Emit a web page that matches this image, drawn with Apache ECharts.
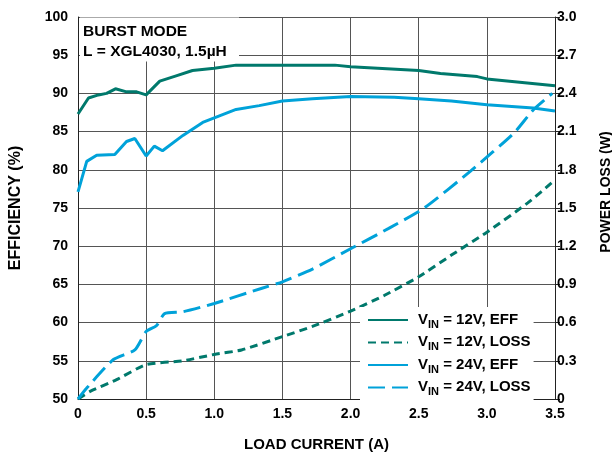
<!DOCTYPE html>
<html>
<head>
<meta charset="utf-8">
<script src="https://cdn.jsdelivr.net/npm/echarts@6/dist/echarts.min.js"></script>
<style>html,body{margin:0;padding:0;background:#fff;}#c{width:612px;height:457px;}</style>
</head>
<body>
<div id="c"></div>
<script>
// ---- data ----
const xTicks = [0, 0.5, 1.0, 1.5, 2.0, 2.5, 3.0, 3.5];
const effTicks = [50, 55, 60, 65, 70, 75, 80, 85, 90, 95, 100];
const lossTicks = [0, 0.3, 0.6, 0.9, 1.2, 1.5, 1.8, 2.1, 2.4, 2.7, 3.0];

const eff12X = [0, 0.077, 0.15, 0.21, 0.275, 0.356, 0.43, 0.5, 0.6, 0.72, 0.84, 1.0, 1.16, 1.5, 1.885, 2.0, 2.2, 2.5, 2.66, 2.93, 3.0, 3.5];
const eff12Y = [87.3, 89.4, 89.8, 90.0, 90.6, 90.2, 90.2, 89.8, 91.6, 92.3, 93.0, 93.3, 93.7, 93.7, 93.7, 93.5, 93.3, 93.0, 92.6, 92.2, 91.9, 91.0];

const loss12X = [0, 0.089, 0.28, 0.5, 0.77, 1.0, 1.2, 1.5, 1.72, 2.0, 2.25, 2.5, 2.74, 3.0, 3.3, 3.5];
const loss12Y = [0, 0.06, 0.15, 0.27, 0.30, 0.35, 0.385, 0.49, 0.57, 0.69, 0.815, 0.96, 1.13, 1.31, 1.54, 1.72];

const eff24X = [0, 0.064, 0.137, 0.27, 0.356, 0.417, 0.5, 0.56, 0.62, 0.77, 0.915, 1.0, 1.16, 1.33, 1.5, 1.72, 2.0, 2.32, 2.5, 2.74, 3.0, 3.34, 3.5];
const eff24Y = [77.1, 81.1, 81.9, 82.0, 83.7, 84.1, 81.8, 83.1, 82.5, 84.5, 86.2, 86.8, 87.9, 88.4, 89.0, 89.3, 89.6, 89.5, 89.3, 89.0, 88.5, 88.1, 87.7];

const loss24X = [0, 0.064, 0.26, 0.417, 0.5, 0.575, 0.635, 0.77, 1.0, 1.35, 1.5, 1.72, 2.0, 2.28, 2.54, 2.88, 3.2, 3.34, 3.48];
const loss24Y = [0, 0.086, 0.31, 0.385, 0.53, 0.575, 0.67, 0.685, 0.75, 0.87, 0.92, 1.02, 1.18, 1.34, 1.5, 1.79, 2.09, 2.27, 2.40];

const seriesNames = ['VIN = 12V, EFF', 'VIN = 12V, LOSS', 'VIN = 24V, EFF', 'VIN = 24V, LOSS'];
const annotation = ['BURST MODE', 'L = XGL4030, 1.5µH'];

// ---- build ----
const GREEN = '#00796c';
const CYAN = '#00a2d9';
const FONT = 'Liberation Sans, Arial, sans-serif';
const zip = (xs, ys) => xs.map((x, i) => [x, ys[i]]);

const chart = echarts.init(document.getElementById('c'), null, {renderer: 'canvas'});
const axisLabel = {color: '#000', fontFamily: FONT, fontWeight: 'bold', fontSize: 14};
const option = {
  animation: false,
  backgroundColor: '#fff',
  textStyle: {fontFamily: FONT},
  grid: {left: 74, right: 57, top: 17, bottom: 56, containLabel: false},
  xAxis: {
    type: 'value', min: xTicks[0], max: xTicks[xTicks.length - 1], interval: 0.5,
    name: 'LOAD CURRENT (A)', nameLocation: 'middle', nameGap: 38,
    nameTextStyle: {color: '#000', fontFamily: FONT, fontWeight: 'bold', fontSize: 15},
    axisLine: {show: true, lineStyle: {color: '#222', width: 1}},
    axisTick: {show: false},
    axisLabel: Object.assign({margin: 8, formatter: v => v === 0 ? '0' : v.toFixed(1)}, axisLabel),
    splitLine: {show: true, lineStyle: {color: '#555', width: 1}}
  },
  yAxis: [{
    type: 'value', min: effTicks[0], max: effTicks[effTicks.length - 1], interval: 5,
    name: 'EFFICIENCY (%)', nameLocation: 'middle', nameGap: 54, nameRotate: 90,
    nameTextStyle: {color: '#000', fontFamily: FONT, fontWeight: 'bold', fontSize: 16},
    axisLine: {show: true, lineStyle: {color: '#222', width: 1}},
    axisTick: {show: false},
    axisLabel: Object.assign({margin: 10}, axisLabel),
    splitLine: {show: true, lineStyle: {color: '#555', width: 1}}
  }, {
    type: 'value', min: lossTicks[0], max: lossTicks[lossTicks.length - 1], interval: 0.3, position: 'right',
    axisLine: {show: true, lineStyle: {color: '#222', width: 1}},
    axisTick: {show: true, length: 5, lineStyle: {color: '#222'}},
    axisLabel: Object.assign({margin: 2, formatter: v => Math.abs(v) < 1e-9 ? '0' : v.toFixed(1)}, axisLabel),
    splitLine: {show: false}
  }],
  legend: {
    orient: 'vertical', left: 360, top: 307,
    backgroundColor: '#fff', padding: [5, 3, 6, 7],
    itemWidth: 40, itemHeight: 12, itemGap: 4.5,
    itemStyle: {opacity: 0, color: 'rgba(0,0,0,0)', borderWidth: 0},
    data: seriesNames,
    formatter: n => {
      const rest = n.replace('VIN', '');
      return '{v|V}{s|IN}{t|' + rest + '}';
    },
    textStyle: {
      color: '#000', fontFamily: FONT,
      rich: {
        v: {fontSize: 15, fontWeight: 'bold', lineHeight: 16, verticalAlign: 'top', padding: [0, 0, 0, 5], fontFamily: FONT, color: '#000'},
        s: {fontSize: 11, fontWeight: 'bold', lineHeight: 12, verticalAlign: 'top', padding: [7, 0, 0, 0], fontFamily: FONT, color: '#000'},
        t: {fontSize: 15, fontWeight: 'bold', lineHeight: 16, verticalAlign: 'top', fontFamily: FONT, color: '#000'}
      }
    }
  },
  graphic: [
    {type: 'rect', left: 80, top: 17.5, z: 5, shape: {width: 159, height: 44}, style: {fill: '#fff'}},
    {type: 'text', left: 83, top: 24, z: 6, style: {text: annotation[0], fill: '#000', font: 'bold 15.5px ' + FONT}},
    {type: 'text', left: 83, top: 44, z: 6, style: {text: annotation[1], fill: '#000', font: 'bold 15.5px ' + FONT}},
    {type: 'text', x: 606, y: 192, rotation: Math.PI / 2, z: 6,
      style: {text: 'POWER LOSS (W)', fill: '#000', font: 'bold 14px ' + FONT, align: 'center', verticalAlign: 'middle'}}
  ],
  series: [
    {name: seriesNames[0], type: 'line', yAxisIndex: 0, data: zip(eff12X, eff12Y), showSymbol: false, symbol: 'none', smooth: false,
      lineStyle: {color: GREEN, width: 3}, itemStyle: {color: GREEN}},
    {name: seriesNames[1], type: 'line', yAxisIndex: 1, data: zip(loss12X, loss12Y), showSymbol: false, symbol: 'none', smooth: 0.2,
      lineStyle: {color: GREEN, width: 3, type: [8, 5]}, itemStyle: {color: GREEN}},
    {name: seriesNames[2], type: 'line', yAxisIndex: 0, data: zip(eff24X, eff24Y), showSymbol: false, symbol: 'none', smooth: false,
      lineStyle: {color: CYAN, width: 3}, itemStyle: {color: CYAN}},
    {name: seriesNames[3], type: 'line', yAxisIndex: 1, data: zip(loss24X, loss24Y), showSymbol: false, symbol: 'none', smooth: 0.2,
      lineStyle: {color: CYAN, width: 3, type: [17, 7]}, itemStyle: {color: CYAN}}
  ]
};
chart.setOption(option);
</script>
</body>
</html>
